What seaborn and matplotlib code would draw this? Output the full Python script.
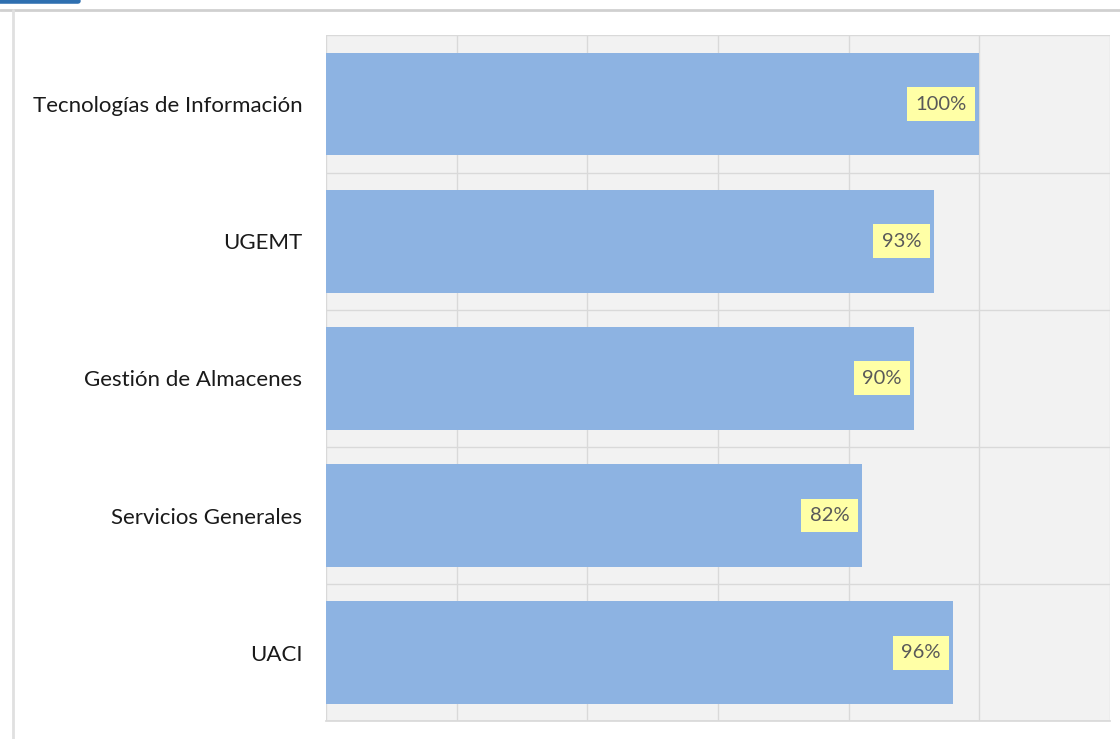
import pandas as pd
import numpy as np
import matplotlib
matplotlib.use("Agg")
import matplotlib.pyplot as plt
import seaborn as sns

categorias = ["Tecnologías de Información", "UGEMT", "Gestión de Almacenes",
              "Servicios Generales", "UACI"]
porcentajes = [100, 93, 90, 82, 96]

df = pd.DataFrame({"area": categorias, "pct": porcentajes})

sns.set_theme(style="white")
plt.rcParams["font.family"] = ["Lato", "DejaVu Sans"]

fig = plt.figure(figsize=(11.2, 7.39), dpi=100)
fig.patch.set_facecolor("white")
ax = fig.add_axes([0.291, 0.024, 0.700, 0.928])
ax.set_facecolor("#f2f2f2")

sns.barplot(data=df, x="pct", y="area", color="#8db3e2", saturation=1,
            width=0.75, linewidth=0, ax=ax, zorder=3)

ax.set_xlim(0, 120)
ax.set_ylim(len(categorias) - 0.5, -0.5)
ax.set_xticks(np.arange(0, 121, 20))
ax.set_xticklabels([])
ax.set_yticks(range(len(categorias)))
ax.set_yticks(np.arange(-0.5, len(categorias), 1), minor=True)
ax.tick_params(axis="both", which="both", length=0)
ax.tick_params(axis="y", labelsize=16, pad=17, labelcolor="#1a1a1a")
ax.grid(axis="x", which="major", color="#d9d9d9", linewidth=1, zorder=0)
ax.grid(axis="y", which="minor", color="#d9d9d9", linewidth=1, zorder=0)
ax.set_xlabel("")
ax.set_ylabel("")
for s in ax.spines.values():
    s.set_visible(False)
ax.spines["bottom"].set_visible(True)
ax.spines["bottom"].set_color("#d9d9d9")

for i, v in enumerate(porcentajes):
    ax.text(v - 1.9, i, f"{v}%", ha="right", va="center", fontsize=14.5,
            color="#595959", zorder=4,
            bbox=dict(boxstyle="square,pad=0.42", fc="#ffffa6", ec="none"))

# marco de la diapositiva
fig.add_artist(plt.Line2D([0.0, 1.0], [0.987, 0.987], color="#d0d0d0", lw=2))
fig.add_artist(plt.Line2D([0.012, 0.012], [0.0, 0.987], color="#e0e0e0", lw=2))
fig.add_artist(plt.Line2D([0.0, 0.07], [0.999, 0.999], color="#2e6fb0", lw=4))

fig.savefig("out.png", dpi=100)
